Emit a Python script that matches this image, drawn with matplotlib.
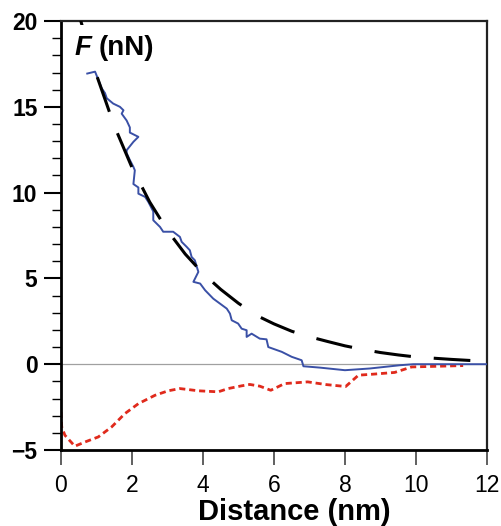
import numpy as np
import matplotlib
matplotlib.use('Agg')
import matplotlib.pyplot as plt
from matplotlib.patches import Rectangle
from matplotlib.transforms import offset_copy

plt.rcParams['font.family'] = ['Liberation Sans', 'DejaVu Sans']

# measured approach curve (blue)
approach_x = [0.74, 0.96, 1.15, 1.24, 1.29, 1.47, 1.66, 1.76, 1.71, 1.85, 1.94, 1.94, 2.18, 2.04,
              1.85, 1.85, 1.94, 2.04, 2.08, 2.04, 2.18, 2.18, 2.37, 2.46, 2.60, 2.60, 2.79, 2.88,
              3.16, 3.35, 3.40, 3.54, 3.63, 3.68, 3.77, 3.87, 3.73, 3.92, 4.06, 4.29, 4.48, 4.67,
              4.76, 4.81, 4.99, 5.09, 5.23, 5.23, 5.37, 5.60, 5.79, 5.84, 6.22, 6.50, 6.78, 6.83,
              7.30, 8.00, 8.70, 9.55, 9.93, 12.0]
approach_y = [16.94, 17.05, 16.07, 15.80, 15.50, 15.19, 15.00, 14.80, 14.60, 14.20, 13.80, 13.50,
              13.25, 12.96, 12.47, 12.30, 11.90, 11.50, 11.30, 10.50, 10.30, 9.94, 9.75, 9.46,
              8.90, 8.39, 8.00, 7.72, 7.72, 7.42, 7.13, 6.84, 6.64, 6.25, 6.06, 5.38, 4.80, 4.70,
              4.31, 3.82, 3.53, 3.24, 2.95, 2.56, 2.37, 2.07, 1.98, 1.59, 1.78, 1.49, 1.45, 1.00,
              0.72, 0.43, 0.23, -0.12, -0.20, -0.35, -0.25, -0.06, 0.0, 0.0]

# retract curve (red dotted)
retract_x = [0.0, 0.02, 0.11, 0.39, 0.68, 1.05, 1.43, 1.80, 2.18, 2.65, 3.02, 3.35, 3.87, 4.43,
             4.71, 5.09, 5.32, 5.60, 5.91, 6.30, 6.95, 7.48, 8.02, 8.38, 8.80, 9.40, 9.88, 11.33]
retract_y = [-2.78, -3.65, -4.14, -4.78, -4.53, -4.24, -3.65, -2.88, -2.30, -1.81, -1.55, -1.42,
             -1.55, -1.61, -1.42, -1.26, -1.18, -1.28, -1.52, -1.13, -1.03, -1.19, -1.30, -0.64,
             -0.58, -0.48, -0.16, -0.08]

# fitted decay (black dashed)
fit_x = [0.55, 1.0, 1.5, 2.0, 2.5, 3.0, 3.5, 4.0, 4.5, 5.0, 5.5, 6.0, 6.5, 7.0, 7.5, 8.0,
         8.5, 9.0, 9.5, 10.0, 10.5, 11.0, 11.5, 12.0]
fit_y = [20.06, 16.86, 13.90, 11.46, 9.45, 7.79, 6.42, 5.29, 4.36, 3.55, 2.85, 2.35, 1.92,
         1.60, 1.33, 1.07, 0.86, 0.68, 0.54, 0.42, 0.35, 0.28, 0.22, 0.17]

fig = plt.figure(figsize=(5.02, 5.26), dpi=100)
ax = fig.add_axes([0.1215, 0.1445, 0.8485, 0.8155])

ax.axhline(0, color='#a0a0a0', lw=0.9, zorder=1)
ax.plot(retract_x, retract_y, color='#e02a1c', lw=2.0, dashes=(2.2, 1.4), zorder=2)
ax.plot(approach_x, approach_y, color='#3a50a6', lw=1.4, zorder=3)
ax.plot(fit_x, fit_y, color='black', lw=2.2, dashes=(12, 7.5), zorder=4)

# white patch behind the quantity label hides the dashed line there
ax.add_patch(Rectangle((0.3, 17.6), 2.5, 2.15, facecolor='white', edgecolor='none', zorder=5))
ax.text(0.38, 18.45, 'F', fontsize=20, fontweight='bold', fontstyle='italic',
        va='center', ha='left', zorder=6)
ax.text(0.38, 18.45, '(nN)', fontsize=20, fontweight='bold', va='center', ha='left', zorder=6,
        transform=offset_copy(ax.transData, fig=fig, x=17.5, y=0, units='points'))

ax.set_xlim(0, 12)
ax.set_ylim(-5, 20)
ax.set_xticks([0, 2, 4, 6, 8, 10, 12])
ax.set_yticks([-5, 0, 5, 10, 15, 20])
ax.set_yticks(np.arange(-5, 21, 1), minor=True)

for s in ['left', 'bottom']:
    ax.spines[s].set_linewidth(2.0)
for s in ['top', 'right']:
    ax.spines[s].set_linewidth(1.6)
    ax.spines[s].set_color('#222222')

ax.tick_params(axis='y', which='major', direction='out', length=12, width=1.5, pad=5,
               labelsize=16.5)
ax.tick_params(axis='y', which='minor', direction='out', length=6.5, width=1.0)
ax.tick_params(axis='x', which='major', direction='out', length=11, width=1.2, pad=6,
               labelsize=16.5, color='#444444')
for lab in ax.get_yticklabels():
    lab.set_fontweight('bold')

ax.set_xlabel('Distance (nm)', fontsize=21, fontweight='bold')
ax.xaxis.set_label_coords(0.547, -0.113)

fig.savefig('out.png', dpi=100)
